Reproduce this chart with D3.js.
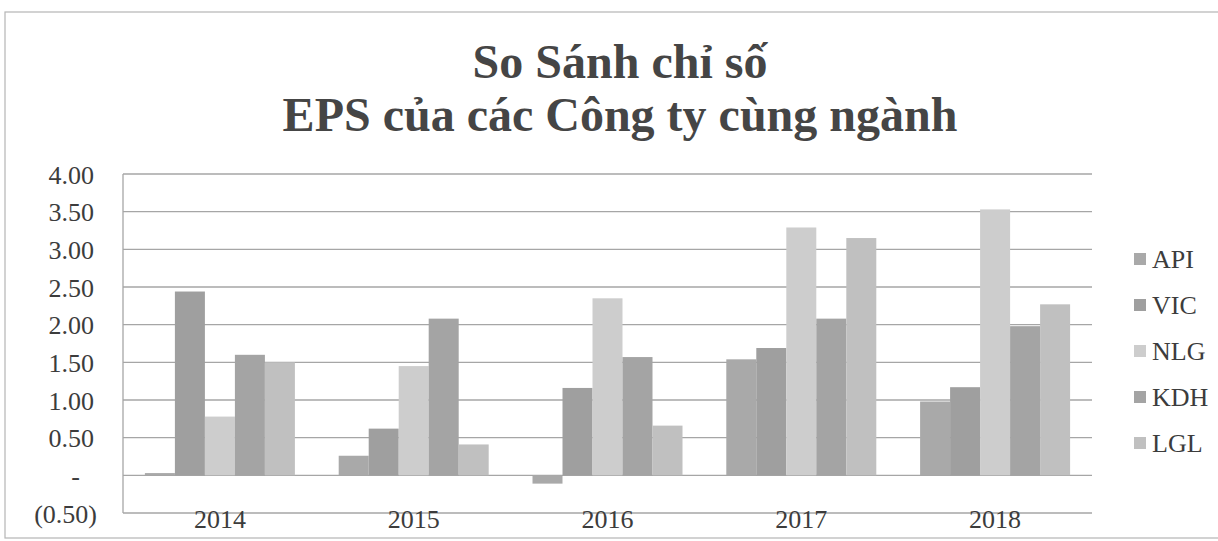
<!DOCTYPE html>
<meta charset="utf-8">
<style>
    body { margin: 0; background: #fff; }
    svg text { font-family: "Liberation Serif", "DejaVu Serif", serif; fill: #3c3c3c; }
    .title { font-weight: bold; font-size: 48px; text-anchor: middle; fill: #454545; }
    .tick text { font-size: 26px; }
    .legend text { font-size: 26px; }
</style>
<svg width="1218" height="541"></svg>

<script src="https://d3js.org/d3.v7.min.js"></script>
<script>
    // data
    var years = ["2014", "2015", "2016", "2017", "2018"];
    var series = ["API", "VIC", "NLG", "KDH", "LGL"];
    var API = [0.03, 0.26, -0.11, 1.54, 0.98];
    var VIC = [2.44, 0.62, 1.16, 1.69, 1.17];
    var NLG = [0.78, 1.45, 2.35, 3.29, 3.53];
    var KDH = [1.60, 2.08, 1.57, 2.08, 1.98];
    var LGL = [1.50, 0.41, 0.66, 3.15, 2.27];
    var yTicks = [-0.5, 0, 0.5, 1, 1.5, 2, 2.5, 3, 3.5, 4];
    var titleLines = ["So Sánh chỉ số", "EPS của các Công ty cùng ngành"];

    var values = { API: API, VIC: VIC, NLG: NLG, KDH: KDH, LGL: LGL };
    var color = d3.scaleOrdinal()
        .domain(series)
        .range(["#a9a9a9", "#9f9f9f", "#cdcdcd", "#a4a4a4", "#c0c0c0"]);

    var svg = d3.select("svg");

    // outer chart border
    svg.append("rect")
        .attr("x", 5).attr("y", 12)
        .attr("width", 1230).attr("height", 526)
        .attr("fill", "none").attr("stroke", "#b5b5b5").attr("stroke-width", 1.2);

    svg.selectAll(".title")
        .data(titleLines)
        .enter().append("text")
        .attr("class", "title")
        .attr("x", 620)
        .attr("y", function(d, i) { return 78 + i * 53; })
        .text(function(d) { return d; });

    var plotL = 123, plotR = 1092, plotT = 174, plotB = 513;

    var y = d3.scaleLinear().domain([-0.5, 4]).range([plotB, plotT]);
    var x0 = d3.scaleBand().domain(years).range([plotL, plotR]);
    var gap = x0.bandwidth() * 0.113;
    var x1 = d3.scaleBand().domain(series).range([gap, x0.bandwidth() - gap]);

    // gridlines
    svg.append("g")
        .selectAll("line")
        .data(yTicks)
        .enter().append("line")
        .attr("x1", plotL).attr("x2", plotR)
        .attr("y1", function(d) { return y(d); })
        .attr("y2", function(d) { return y(d); })
        .attr("stroke", "#a6a6a6")
        .attr("stroke-width", 1.3);

    // left border of the plot
    svg.append("line")
        .attr("x1", plotL).attr("x2", plotL)
        .attr("y1", plotT).attr("y2", plotB)
        .attr("stroke", "#a6a6a6").attr("stroke-width", 1.3);

    // y axis labels
    var yAxis = d3.axisLeft(y)
        .tickValues(yTicks)
        .tickSize(0)
        .tickPadding(0)
        .tickFormat(function(d) {
            if (d === 0) return "-";
            if (d < 0) return "(" + d3.format(".2f")(-d) + ")";
            return d3.format(".2f")(d);
        });
    var ya = svg.append("g")
        .attr("transform", "translate(94,0)")
        .call(yAxis);
    ya.select(".domain").remove();
    ya.selectAll(".tick text")
        .attr("x", function(d) { return d < 0 ? 3 : (d === 0 ? -14 : 0); })
        .attr("dy", "0.35em");

    // bars
    var groups = svg.append("g")
        .selectAll("g")
        .data(years)
        .enter().append("g")
        .attr("transform", function(d) { return "translate(" + x0(d) + ",0)"; });

    groups.selectAll("rect")
        .data(function(d, i) { return series.map(function(s) { return { key: s, value: values[s][i] }; }); })
        .enter().append("rect")
        .attr("x", function(d) { return x1(d.key); })
        .attr("y", function(d) { return y(Math.max(0, d.value)); })
        .attr("width", x1.bandwidth())
        .attr("height", function(d) { return Math.abs(y(d.value) - y(0)); })
        .attr("fill", function(d) { return color(d.key); });

    // category labels
    var xAxis = d3.axisBottom(x0).tickSize(0).tickPadding(0);
    var xa = svg.append("g")
        .attr("transform", "translate(0," + plotB + ")")
        .call(xAxis);
    xa.select(".domain").remove();
    xa.selectAll(".tick text").attr("y", 9).attr("dy", 0).attr("dominant-baseline", "middle");

    // legend
    var legend = svg.append("g")
        .attr("class", "legend")
        .selectAll("g")
        .data(series)
        .enter().append("g")
        .attr("transform", function(d, i) { return "translate(1134," + (259 + i * 46) + ")"; });
    legend.append("rect")
        .attr("x", 0).attr("y", -6)
        .attr("width", 12).attr("height", 12)
        .attr("fill", function(d) { return color(d); });
    legend.append("text")
        .attr("x", 18)
        .attr("dy", "0.35em")
        .text(function(d) { return d; });
</script>
